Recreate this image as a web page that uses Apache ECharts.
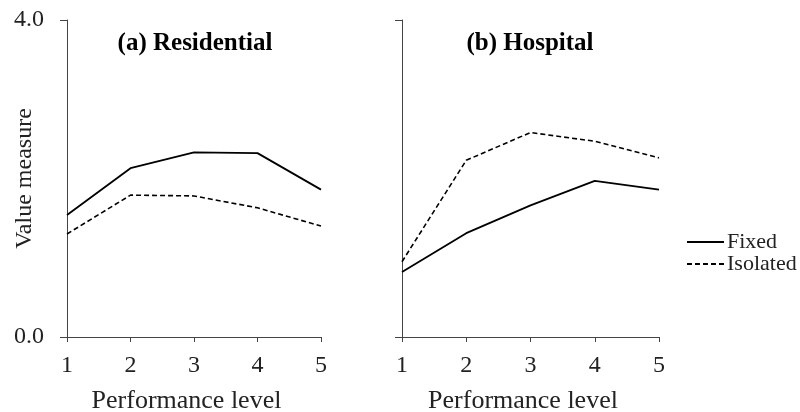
<!DOCTYPE html>
<html>
<head>
<meta charset="utf-8">
<script src="https://cdn.jsdelivr.net/npm/echarts@6/dist/echarts.min.js"></script>
<style>
  html, body { margin: 0; padding: 0; background: #fff; }
  #chart { width: 800px; height: 412px; }
</style>
</head>
<body>
<div id="chart"></div>
<script>
// performance levels on the x axis
var levels = [1, 2, 3, 4, 5];
// (a) Residential
var resFixed = [1.54, 2.13, 2.33, 2.32, 1.86];
var resIsolated = [1.30, 1.79, 1.78, 1.63, 1.40];
// (b) Hospital
var hosFixed = [0.82, 1.31, 1.66, 1.97, 1.86];
var hosIsolated = [0.95, 2.23, 2.58, 2.47, 2.26];
var panelTitles = ['(a) Residential', '(b) Hospital'];

var font = 'Liberation Serif, Times New Roman, serif';
var ink = '#222';

var pairs = function (ys) {
    return levels.map(function (x, i) { return [x, ys[i]]; });
};

var makeX = function (idx) {
    return {
        type: 'value', gridIndex: idx, min: 1, max: 5, interval: 1,
        name: 'Performance level', nameLocation: 'middle', nameGap: 51,
        nameMoveOverlap: false,
        nameTextStyle: { fontFamily: font, fontSize: 26, color: ink, padding: [0, 15, 0, 0] },
        axisLine: { lineStyle: { color: '#444', width: 1 } },
        axisTick: { show: true, length: 5, lineStyle: { color: '#444' } },
        axisLabel: { fontFamily: font, fontSize: 24, color: ink, margin: 17 },
        splitLine: { show: false }
    };
};

var makeY = function (idx, withLabels) {
    return {
        type: 'value', gridIndex: idx, min: 0, max: 4, interval: 4,
        name: withLabels ? 'Value measure' : '', nameLocation: 'middle', nameGap: 30,
        nameRotate: 90, nameMoveOverlap: false,
        nameTextStyle: { fontFamily: font, fontSize: 24, color: ink },
        axisLine: { show: true, lineStyle: { color: '#444', width: 1 } },
        axisTick: { show: true, length: 7, lineStyle: { color: '#444' } },
        axisLabel: {
            show: withLabels, fontFamily: font, fontSize: 24, color: ink, margin: 23,
            formatter: function (v) { return v.toFixed(1); }
        },
        splitLine: { show: false }
    };
};

var makeLine = function (name, idx, ys, dashed) {
    return {
        name: name, type: 'line', xAxisIndex: idx, yAxisIndex: idx,
        data: pairs(ys), symbol: 'none', silent: true,
        lineStyle: { color: '#000', width: dashed ? 1.6 : 1.8, type: dashed ? [5, 3] : 'solid' },
        itemStyle: { color: '#000' }
    };
};

var chart = echarts.init(document.getElementById('chart'));
chart.setOption({
    backgroundColor: '#fff',
    animation: false,
    title: [
        { text: panelTitles[0], left: 190, top: 26, textAlign: 'center',
          textStyle: { fontFamily: font, fontSize: 25, fontWeight: 'bold', color: '#000' } },
        { text: panelTitles[1], left: 525, top: 26, textAlign: 'center',
          textStyle: { fontFamily: font, fontSize: 25, fontWeight: 'bold', color: '#000' } }
    ],
    legend: {
        orient: 'vertical', left: 686, top: 231, padding: 0,
        itemWidth: 37, itemHeight: 18, itemGap: 0,
        data: [
            { name: 'Fixed', itemStyle: { opacity: 0 } },
            { name: 'Isolated', itemStyle: { opacity: 0 } }
        ],
        textStyle: { fontFamily: font, fontSize: 22, lineHeight: 21.6, color: ink, padding: [0, 0, 0, -2] },
        selectedMode: false
    },
    grid: [
        { left: 67, top: 20, width: 254, height: 317, outerBoundsMode: 'none', containLabel: false },
        { left: 402, top: 20, width: 257, height: 317, outerBoundsMode: 'none', containLabel: false }
    ],
    xAxis: [makeX(0), makeX(1)],
    yAxis: [makeY(0, true), makeY(1, false)],
    series: [
        makeLine('Fixed', 0, resFixed, false),
        makeLine('Isolated', 0, resIsolated, true),
        makeLine('Fixed', 1, hosFixed, false),
        makeLine('Isolated', 1, hosIsolated, true)
    ]
});
</script>
</body>
</html>
